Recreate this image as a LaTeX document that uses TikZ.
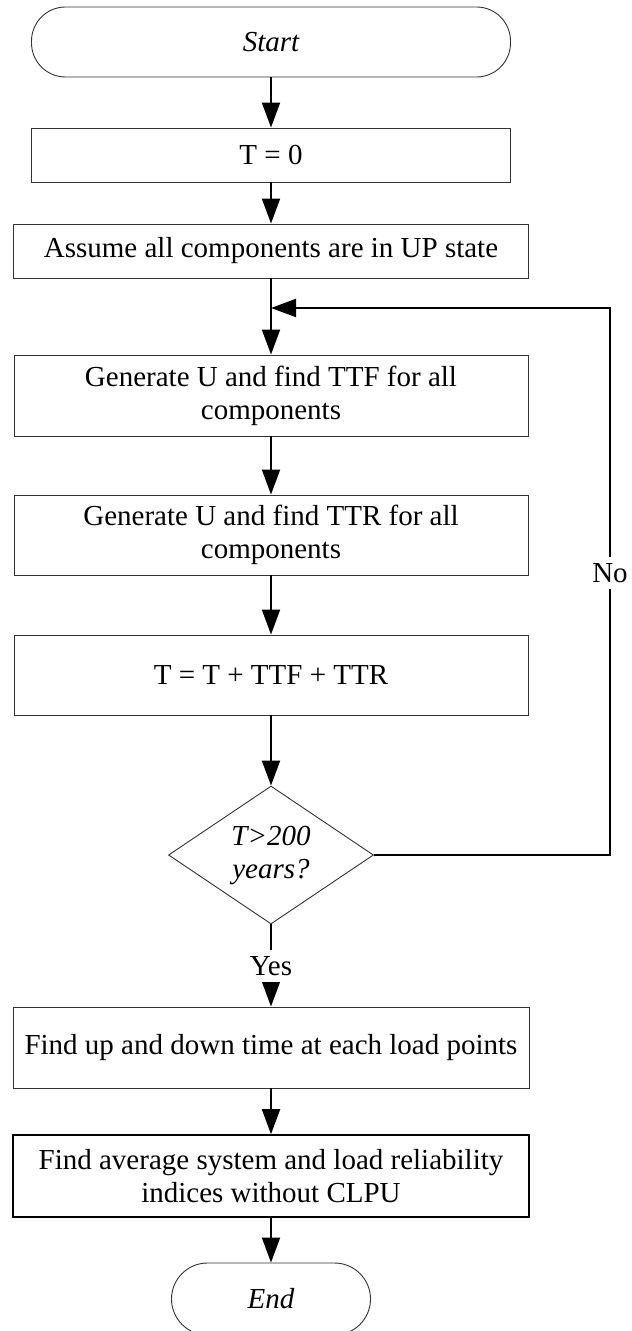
\documentclass[tikz,border=0pt]{standalone}
\usepackage{fontspec}
\setmainfont{Liberation Serif}
\usetikzlibrary{arrows.meta,shapes.geometric}
\begin{document}
\begin{tikzpicture}[x=0.5pt,y=-0.5pt,
  every node/.style={font=\fontsize{14.5}{16.5}\selectfont},
  procbox/.style={draw=black!80, line width=0.45pt, inner sep=0pt, align=center},
  term/.style={draw=black!80, line width=0.45pt, rounded corners=17pt, inner sep=0pt,
    font=\fontsize{14.5}{16.5}\selectfont\itshape},
  decision/.style={diamond, draw=black!80, line width=0.45pt, inner sep=0pt, aspect=1.49,
    minimum width=102.5pt, minimum height=69pt, align=center,
    font=\fontsize{14.5}{16.5}\selectfont\itshape},
  conn/.style={line width=1pt, -{Triangle[length=12.5pt,width=9pt]}},
  lbl/.style={fill=white, inner sep=3pt}
]
\useasboundingbox (0,0) rectangle (631,1331);

\node[term, minimum width=239.5pt, minimum height=35pt] (start) at (271,42) {Start};
\node[procbox, minimum width=239.5pt, minimum height=27pt] (t0) at (271,155) {T = 0};
\node[procbox, minimum width=257.5pt, minimum height=27pt] (assume) at (271,251) {Assume all components are in UP state};
\node[procbox, minimum width=257pt, minimum height=40.5pt] (ttf) at (271,395.5) {Generate U and find TTF for all\\components};
\node[procbox, minimum width=257pt, minimum height=40pt] (ttr) at (271,535) {Generate U and find TTR for all\\components};
\node[procbox, minimum width=257pt, minimum height=40pt] (tupd) at (271,675) {T = T + TTF + TTR};
\node[decision] (dec) at (271,855) {T>200\\years?};
\node[procbox, minimum width=258pt, minimum height=40.5pt] (find) at (271,1047.5) {Find up and down time at each load points};
\node[procbox, draw=black, line width=0.8pt, minimum width=258pt, minimum height=41pt] (avg) at (271,1176) {Find average system and load reliability\\indices without CLPU};
\node[term, minimum width=99.5pt, minimum height=36pt, rounded corners=18pt] (end) at (271,1299) {End};

\draw[conn] (start) -- (t0);
\draw[conn] (t0) -- (assume);
\draw[conn] (assume) -- (ttf);
\draw[conn] (ttf) -- (ttr);
\draw[conn] (ttr) -- (tupd);
\draw[conn] (tupd) -- (dec);
\draw[conn] (dec) -- (find);
\draw[conn] (find) -- (avg);
\draw[conn] (avg) -- (end);

\coordinate (lr) at (610,855);
\coordinate (lt) at (610,308);
\coordinate (lj) at (271,308);
\draw[conn] (dec.east) -- (lr) -- (lt) -- (lj);

\node[lbl] (no) at (610,573) {No};
\node[lbl] (yes) at (271,966) {Yes};
\end{tikzpicture}
\end{document}
